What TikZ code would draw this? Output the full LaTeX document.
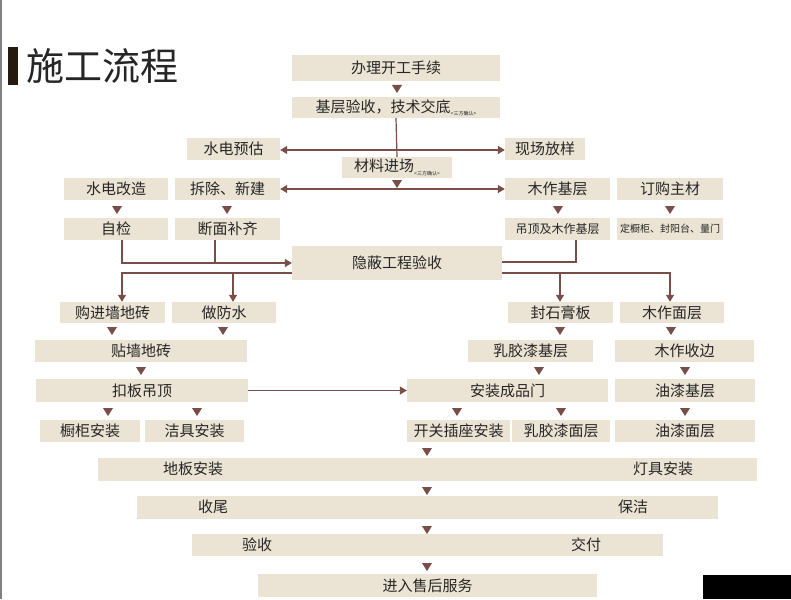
\documentclass[tikz,border=0pt]{standalone}
\usepackage{fontspec}
\setmainfont{Noto Sans CJK SC}
\usetikzlibrary{arrows.meta}
\definecolor{bg}{HTML}{EBE4D4}
\definecolor{br}{HTML}{7A4E48}
\newcommand\bx[6]{\node[bx,minimum width={(#4-#2)*1pt},minimum height={(#5-#3)*1pt}] (#1) at ({(#2+#4)/2},{(#3+#5)/2}) {#6};}
\newcommand\tri[2]{\fill[br] (#1-5,#2-4) -- (#1+5,#2-4) -- (#1,#2+4) -- cycle;}
\newcommand\tag{\raisebox{-0.4ex}{\fontsize{5}{5}\selectfont<三方确认>}}
\begin{document}
\begin{tikzpicture}[x=1pt,y=-1pt,
  bx/.style={fill=bg,inner sep=0pt,font=\fontsize{15}{17}\selectfont,text=black!85},
  ln/.style={draw=br,line width=1.2pt},
  ar/.style={ln,-{Triangle[width=8pt,length=7pt]}},
  da/.style={ln,{Triangle[width=8pt,length=7pt]}-{Triangle[width=8pt,length=7pt]}}]
\useasboundingbox[fill=white] (0,0) rectangle (791,599);
\draw[gray,line width=2pt] (1,0) -- (1,599);
\fill[black] (703,575) rectangle (791,599);
\fill[black!80!brown] (8,47) rectangle (18,85);
\node[anchor=west,inner sep=0pt,font=\fontsize{38}{40}\selectfont,text=black!85] (title) at (26,66) {施工流程};
\bx{a}{292}{55}{500}{81}{办理开工手续}
\tri{397}{89}
\bx{b}{292}{97}{500}{118}{基层验收，技术交底\tag}
\bx{sd}{187}{138}{280}{160}{水电预估}
\bx{xc}{505}{138}{585}{160}{现场放样}
\bx{cl}{342}{157}{452}{178}{材料进场\tag}
\coordinate (m1) at (397,150);
\draw[ln] (b.south) -- (cl.north);
\draw[da] (sd.east |- m1) -- (xc.west |- m1);
\tri{397}{184}
\bx{sg}{64}{178}{168}{200}{水电改造}
\bx{cc}{175}{178}{280}{200}{拆除、新建}
\bx{mj}{505}{178}{610}{200}{木作基层}
\bx{dg}{617}{178}{723}{200}{订购主材}
\draw[da] (cc.east) -- (mj.west);
\tri{117}{210}\tri{227}{210}\tri{558}{210}\tri{670}{210}
\bx{zj}{64}{218}{168}{240}{自检}
\bx{dm}{175}{218}{280}{240}{断面补齐}
\bx{dd}{505}{218}{610}{240}{\fontsize{12}{14}\selectfont 吊顶及木作基层}
\bx{dc}{617}{218}{723}{240}{\fontsize{10}{12}\selectfont 定橱柜、封阳台、量门}
\bx{yb}{292}{246}{502}{280}{隐蔽工程验收}
\coordinate (j1) at (122,263); \coordinate (j2) at (215,263); \coordinate (j3) at (576,262);
\draw[ar] (zj.south -| j1) -- (j1) -- (yb.west |- j1);
\draw[ln] (dm.south -| j2) -- (j2);
\draw[ln] (dd.south -| j3) -- (j3) -- (yb.east |- j3);
\bx{gj}{60}{302}{165}{323}{购进墙地砖}
\bx{zf}{172}{302}{276}{323}{做防水}
\bx{fs}{508}{302}{613}{323}{封石膏板}
\bx{mm}{620}{302}{724}{323}{木作面层}
\coordinate (k1) at (122,273); \coordinate (k2) at (233,273); \coordinate (k3) at (560,273); \coordinate (k4) at (670,273);
\draw[ar] (yb.west |- k1) -- (k1) -- (gj.north -| k1);
\draw[ar] (k2) -- (zf.north -| k2);
\draw[ar] (yb.east |- k4) -- (k4) -- (mm.north -| k4);
\draw[ar] (k3) -- (fs.north -| k3);
\tri{112}{331}\tri{223}{331}\tri{560}{331}\tri{671}{331}
\bx{tq}{35}{340}{247}{362}{贴墙地砖}
\bx{rj}{468}{340}{593}{362}{乳胶漆基层}
\bx{mb}{615}{340}{754}{362}{木作收边}
\tri{141}{371}\tri{539}{371}\tri{685}{371}
\bx{kb}{36}{379}{248}{402}{扣板吊顶}
\bx{az}{407}{379}{608}{402}{安装成品门}
\bx{yq}{615}{379}{755}{402}{油漆基层}
\draw[ar] (kb.east) -- (az.west);
\tri{108}{412}\tri{197}{412}\tri{457}{412}\tri{561}{412}\tri{685}{412}
\bx{cg}{40}{420}{140}{442}{橱柜安装}
\bx{jj}{145}{420}{244}{442}{洁具安装}
\bx{kg}{407}{420}{510}{442}{开关插座安装}
\bx{rm}{512}{420}{610}{442}{乳胶漆面层}
\bx{ym}{615}{420}{755}{442}{油漆面层}
\tri{427}{452}
\bx{db}{98}{458}{757}{481}{}
\node[font=\fontsize{15}{17}\selectfont,text=black!85] (t1) at (193,469) {地板安装};
\node[font=\fontsize{15}{17}\selectfont,text=black!85] (t2) at (663,469) {灯具安装};
\tri{427}{491}
\bx{sw}{137}{496}{718}{519}{}
\node[font=\fontsize{15}{17}\selectfont,text=black!85] (t3) at (213,507) {收尾};
\node[font=\fontsize{15}{17}\selectfont,text=black!85] (t4) at (633,507) {保洁};
\tri{427}{530}
\bx{ys}{192}{534}{663}{556}{}
\node[font=\fontsize{15}{17}\selectfont,text=black!85] (t5) at (257,545) {验收};
\node[font=\fontsize{15}{17}\selectfont,text=black!85] (t6) at (586,545) {交付};
\tri{427}{567}
\bx{sh}{258}{574}{597}{597}{进入售后服务}
\end{tikzpicture}
\end{document}
